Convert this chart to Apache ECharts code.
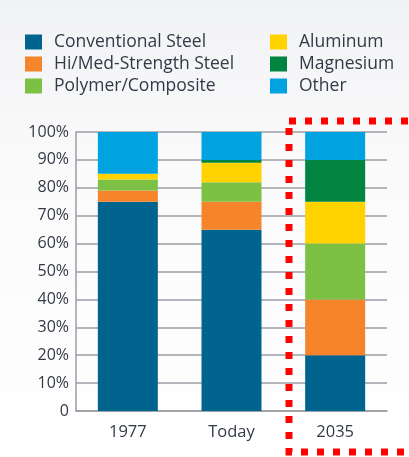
<!DOCTYPE html>
<html>
<head>
<meta charset="utf-8">
<script src="https://cdn.jsdelivr.net/npm/echarts@6/dist/echarts.min.js"></script>
<style>
  html, body { margin: 0; padding: 0; }
  #main { width: 409px; height: 457px; }
</style>
</head>
<body>
<div id="main"></div>
<script>
var years = ['1977', 'Today', '2035'];

var conventionalSteel = [75, 65, 20];
var hiMedSteel = [4, 10, 20];
var polymerComposite = [4, 7, 20];
var aluminum = [2, 7, 15];
var magnesium = [0, 1, 15];
var other = [15, 10, 10];

var yTicks = [0, 10, 20, 30, 40, 50, 60, 70, 80, 90, 100];

var names = ['Conventional Steel', 'Hi/Med-Strength Steel', 'Polymer/Composite', 'Aluminum', 'Magnesium', 'Other'];
var colors = ['#00648f', '#f5842a', '#7cc143', '#ffd200', '#00843f', '#00a3e0'];
var values = [conventionalSteel, hiMedSteel, polymerComposite, aluminum, magnesium, other];

var chart = echarts.init(document.getElementById('main'));

var legendText = { fontFamily: 'Open Sans', fontSize: 17.5, color: '#333a45', padding: [0, 0, 0, 7] };

var option = {
    backgroundColor: {
        type: 'linear', x: 0, y: 0, x2: 0, y2: 1,
        colorStops: [{ offset: 0, color: '#f1f2f4' }, { offset: 0.35, color: '#fafafb' }, { offset: 1, color: '#ffffff' }]
    },
    textStyle: { fontFamily: 'Open Sans' },
    color: colors,
    legend: [{
        data: names.slice(0, 3),
        orient: 'vertical',
        left: 25, top: 33, padding: 0,
        itemWidth: 17, itemHeight: 15, itemGap: 4,
        icon: 'rect',
        textStyle: legendText
    }, {
        data: names.slice(3),
        orient: 'vertical',
        left: 270, top: 33, padding: 0,
        itemWidth: 17, itemHeight: 15, itemGap: 4,
        icon: 'rect',
        textStyle: legendText
    }],
    grid: { left: 76, right: 22, top: 132, bottom: 46 },
    xAxis: {
        type: 'category',
        data: years,
        axisLine: { lineStyle: { color: '#9a9ea4', width: 1.5 } },
        axisTick: { show: false },
        axisLabel: { margin: 13, fontSize: 16.5, color: '#333a45' }
    },
    yAxis: {
        type: 'value',
        min: 0, max: 100, interval: 10,
        axisLine: { show: true, lineStyle: { color: '#9a9ea4', width: 1.5 } },
        axisTick: { show: false },
        splitLine: { lineStyle: { color: '#9a9ea4', width: 1.5 } },
        axisLabel: {
            margin: 7, fontSize: 16, color: '#333a45',
            formatter: function (v) { return v === 0 ? '0' : v + '%'; },
            customValues: yTicks
        }
    },
    series: names.map(function (n, i) {
        return {
            name: n,
            type: 'bar',
            stack: 'total',
            barWidth: 60,
            data: values[i],
            itemStyle: { color: colors[i] }
        };
    }),
    graphic: [{
        type: 'rect',
        shape: { x: 289, y: 121, width: 140, height: 331 },
        style: { fill: 'none', stroke: '#ff0000', lineWidth: 7, lineDash: [7, 9] },
        z: 100
    }]
};

chart.setOption(option);
</script>
</body>
</html>
